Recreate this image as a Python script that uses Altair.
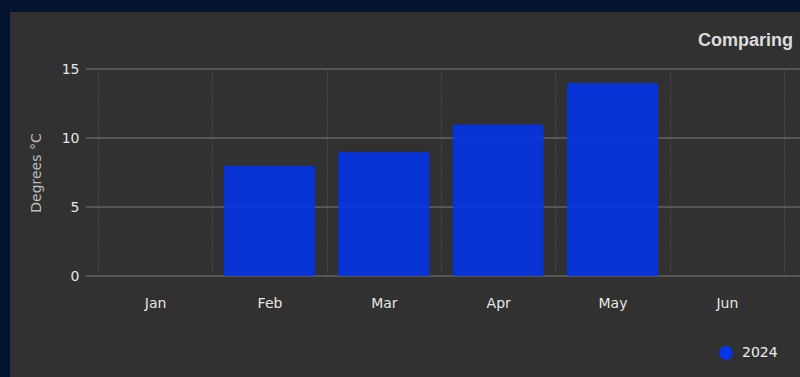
import altair as alt
import pandas as pd

months = ["Jan", "Feb", "Mar", "Apr", "May", "Jun"]
temps_2024 = [0, 8, 9, 11, 14, 0]
series = ["2024"] * len(months)
y_ticks = [0, 5, 10, 15]
chart_title = "Comparing"

df = pd.DataFrame({"month": months, "temp": temps_2024, "year": series})
grid_df = pd.DataFrame({"tick": y_ticks})

PANEL = "#313131"
NAVY = "#05152f"
W, H = 714, 207

y_scale = alt.Scale(domain=[0, 15], nice=False)

grid = alt.Chart(grid_df).mark_rule(color="#7c7c7c", strokeWidth=1).encode(
    y=alt.Y("tick:Q", scale=y_scale),
    x=alt.value(0),
    x2=alt.value(W),
)

bars = alt.Chart(df).mark_bar(
    cornerRadiusTopLeft=3, cornerRadiusTopRight=3, opacity=0.9,
    width=alt.RelativeBandSize(0.8),
).encode(
    x=alt.X(
        "month:N",
        sort=months,
        scale=alt.Scale(range=[12, 698], paddingInner=0, paddingOuter=0),
        axis=alt.Axis(
            title=None, labelAngle=0, labelFont="DejaVu Sans", labelFontSize=14,
            labelColor="#e6e6e6", labelPadding=20, ticks=False, domain=False,
            grid=True, tickBand="extent", gridColor="#5e5e5e", gridDash=[1, 2],
            gridWidth=1,
        ),
    ),
    y=alt.Y(
        "temp:Q",
        scale=y_scale,
        axis=alt.Axis(
            title="Degrees °C", values=y_ticks, titleFont="DejaVu Sans",
            titleFontSize=14, titleFontWeight="normal", titleColor="#bdbdbd",
            titlePadding=18, labelFont="DejaVu Sans", labelFontSize=14,
            labelColor="#e6e6e6", labelPadding=7, ticks=False, domain=False,
            grid=False,
        ),
    ),
    color=alt.Color(
        "year:N",
        scale=alt.Scale(range=["#0535e8"]),
        legend=alt.Legend(
            title=None, orient="none", legendX=632, legendY=276,
            symbolType="circle", symbolSize=190, symbolOpacity=1,
            labelFont="DejaVu Sans", labelFontSize=14, labelColor="#eeeeee",
            labelOffset=8,
        ),
    ),
)

title_text = alt.Chart(alt.Data(values=[{"t": chart_title}])).mark_text(
    align="left", baseline="alphabetic", font="Liberation Sans", fontSize=18,
    fontWeight="bold", color="#dcdcdc",
).encode(
    text="t:N", x=alt.value(612), y=alt.value(-23)
)

strip_left = alt.Chart(alt.Data(values=[{"k": 1}])).mark_rect(color=NAVY).encode(
    x=alt.value(-86), x2=alt.value(-76), y=alt.value(-69), y2=alt.value(308)
)
strip_top = alt.Chart(alt.Data(values=[{"k": 1}])).mark_rect(color=NAVY).encode(
    x=alt.value(-86), x2=alt.value(714), y=alt.value(-69), y2=alt.value(-57)
)

chart = alt.layer(grid, bars, title_text, strip_left, strip_top).properties(
    width=W,
    height=H,
    autosize=alt.AutoSizeParams(type="none"),
    padding={"left": 86, "top": 69, "right": 0, "bottom": 101},
    background=PANEL,
).configure_view(stroke=None)

chart.save("out.html", embed_options={"renderer": "svg", "actions": False})
